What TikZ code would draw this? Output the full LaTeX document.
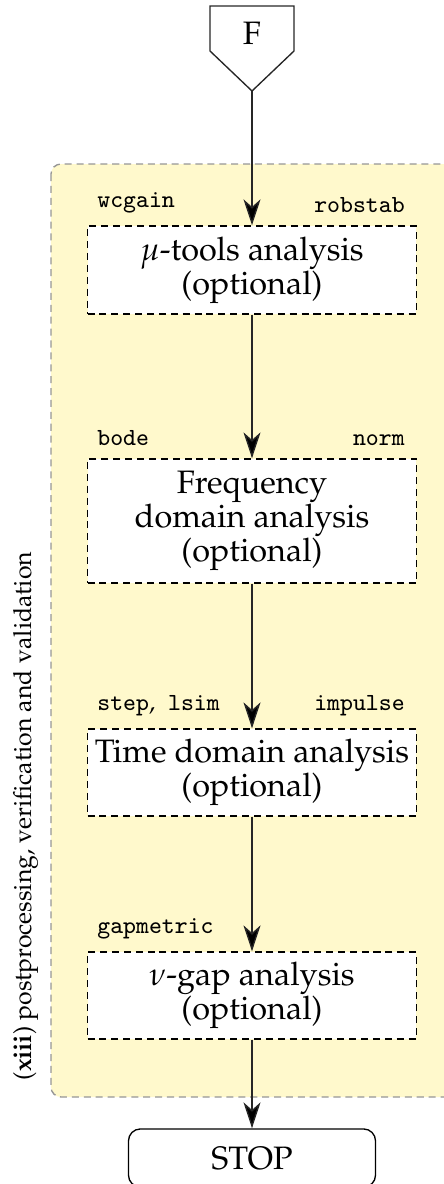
\documentclass[tikz,border=0pt]{standalone}
\usepackage[OT1]{fontenc}
\usepackage{mathpazo}
\usetikzlibrary{arrows.meta}
\definecolor{bgyellow}{RGB}{255,249,204}
\definecolor{bordergray}{RGB}{150,150,150}
\newcommand\cmdtt{\fontencoding{TU}\fontfamily{lmtt}\selectfont}
\begin{document}
\begin{tikzpicture}[x=0.37pt,y=-0.37pt,
  boxfont/.style={font=\fontsize{12}{12.6}\selectfont},
  stagebox/.style={draw, dash pattern=on 2.6pt off 1.8pt, line width=0.5pt, fill=white,
    align=center, minimum width=121.7pt, inner sep=0pt, boxfont},
  cmd/.style={font=\fontsize{9.1}{11}\selectfont\cmdtt, inner sep=0pt},
  arr/.style={-{Stealth[length=9.6pt,width=6.3pt,inset=2.8pt,fill=black]}, line width=0.5pt, draw=black!85},
]
\useasboundingbox (0,0) rectangle (443,1184);
% background group
\draw[bordergray, dash pattern=on 2.6pt off 1.8pt, line width=0.5pt, rounded corners=3.7pt, fill=bgyellow]
  (51,164) rectangle (454,1097);
\node[rotate=90, inner sep=0pt, font=\fontsize{9.2}{11}\selectfont] (grp) at (25.5,816)
  {(\textbf{xiii}) postprocessing, verification and validation};
% start symbol
\draw[line width=0.5pt, draw=black!85] (210,6) -- (294,6) -- (294,51) -- (252,91) -- (210,51) -- cycle;
\node[boxfont] (F) at (252,33) {F};
\coordinate (Ftip) at (252,91);
% stages
\node[stagebox, minimum height=32.6pt] (b1) at (252,270) {$\mu$-tools analysis\\(optional)};
\node[stagebox, minimum height=45.9pt] (b2) at (252,521) {Frequency\\domain analysis\\(optional)};
\node[stagebox, minimum height=32.2pt] (b3) at (252,772.5) {Time domain analysis\\(optional)};
\node[stagebox, minimum height=32.2pt] (b4) at (252,995.5) {$\nu$-gap analysis\\(optional)};
\node[draw, rounded corners=4.4pt, minimum width=91.4pt, minimum height=21.5pt, line width=0.5pt, boxfont] (stop) at (252,1158) {STOP};
% command labels
\node[cmd, anchor=south west] (l1a) at ([xshift=3.7pt,yshift=4.4pt]b1.north west) {wcgain};
\node[cmd, anchor=south east] (l1b) at ([xshift=-4.4pt,yshift=4.4pt]b1.north east) {robstab};
\node[cmd, anchor=south west] (l2a) at ([xshift=3.7pt,yshift=4.4pt]b2.north west) {bode};
\node[cmd, anchor=south east] (l2b) at ([xshift=-4.4pt,yshift=4.4pt]b2.north east) {norm};
\node[cmd, anchor=south west] (l3a) at ([xshift=3.7pt,yshift=4.4pt]b3.north west) {step{\rmfamily\fontencoding{OT1}\selectfont,} lsim};
\node[cmd, anchor=south east] (l3b) at ([xshift=-4.4pt,yshift=4.4pt]b3.north east) {impulse};
\node[cmd, anchor=south west] (l4a) at ([xshift=3.7pt,yshift=4.4pt]b4.north west) {gapmetric};
% connectors
\draw[arr] (Ftip) -- (b1);
\draw[arr] (b1) -- (b2);
\draw[arr] (b2) -- (b3);
\draw[arr] (b3) -- (b4);
\draw[arr] (b4) -- (stop);
\end{tikzpicture}
\end{document}
